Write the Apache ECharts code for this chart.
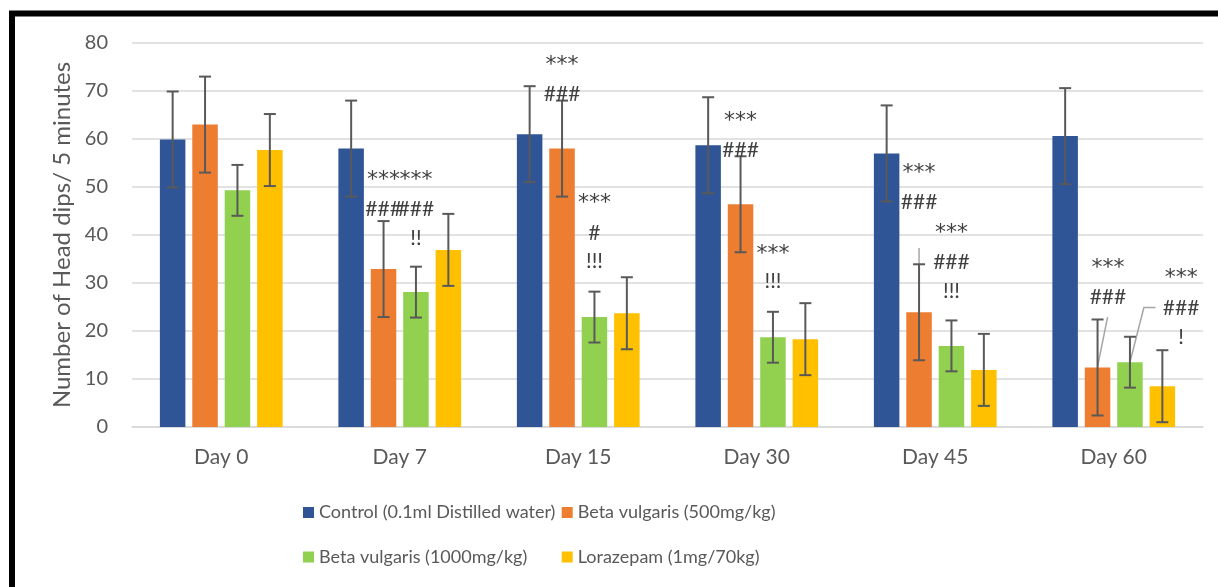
<!DOCTYPE html>
<html><head><meta charset="utf-8">
<script src="https://cdn.jsdelivr.net/npm/echarts@6/dist/echarts.min.js"></script>
<style>html,body{margin:0;padding:0;background:#fff}#c{width:1218px;height:587px}</style>
</head><body><div id="c"></div>
<script>
// ---- data ----
const categories = ['Day 0', 'Day 7', 'Day 15', 'Day 30', 'Day 45', 'Day 60'];
const seriesNames = ['Control (0.1ml Distilled water)', 'Beta vulgaris (500mg/kg)', 'Beta vulgaris (1000mg/kg)', 'Lorazepam (1mg/70kg)'];
const controlMean = [59.9, 58.0, 61.0, 58.7, 57.0, 60.6];
const controlErr  = [10, 10, 10, 10, 10, 10];
const bv500Mean   = [63.0, 32.9, 58.0, 46.4, 23.9, 12.4];
const bv500Err    = [10, 10, 10, 10, 10, 10];
const bv1000Mean  = [49.3, 28.1, 22.9, 18.7, 16.9, 13.5];
const bv1000Err   = [5.3, 5.3, 5.3, 5.3, 5.3, 5.3];
const loraMean    = [57.7, 36.9, 23.7, 18.3, 11.9, 8.5];
const loraErr     = [7.5, 7.5, 7.5, 7.5, 7.5, 7.5];
const yMin = 0, yMax = 80, yStep = 10;
// significance marks: [category index, bar slot (0-3, fractional allowed), y value, text]
const annotations = [
  [1, 1, 52.5, '***'], [1, 1, 45.4, '###'],
  [1, 2, 52.5, '***'], [1, 2, 45.4, '###'], [1, 2, 39.4, '!!'],
  [2, 1, 76.5, '***'], [2, 1, 69.3, '###'],
  [2, 2, 47.6, '***'], [2, 2, 40.3, '#'], [2, 2, 34.6, '!!!'],
  [3, 1, 64.8, '***'], [3, 1, 57.6, '###'],
  [3, 2, 37.1, '***'], [3, 2, 30.3, '!!!'],
  [4, 1, 54.0, '***'], [4, 1, 46.9, '###'],
  [4, 2, 41.5, '***'], [4, 2, 34.3, '###'], [4, 2, 28.3, '!!!'],
  [5, 1.32, 34.1, '***'], [5, 1.32, 27.1, '###'],
  [5, 3.58, 32.0, '***'], [5, 3.58, 24.7, '###'], [5, 3.58, 18.7, '!']
];
// label leader lines: [category index, [[slot, y], ...]]
const leaderLines = [
  [4, [[1, 33.9], [1, 37.3]]],
  [5, [[1.31, 22.9], [1.0, 12.6]]],
  [5, [[2.0, 13.5], [2.43, 24.9], [2.79, 24.9]]]
];
// ---- styling ----
const colors = ['#2F5597', '#ED7D31', '#92D050', '#FFC000'];
const FONT = 'Lato, "Open Sans", sans-serif';
const STAR_FONT = '"DejaVu Sans", sans-serif';
const TXT = '#595959';
const BAR_W = 25.5, BAR_GAP = 6.9;
const STRIDE = BAR_W + BAR_GAP;
const means = [controlMean, bv500Mean, bv1000Mean, loraMean];
const errs = [controlErr, bv500Err, bv1000Err, loraErr];

const chart = echarts.init(document.getElementById('c'), null, {renderer: 'canvas'});

const barSeries = seriesNames.map((n, i) => ({
  name: n, type: 'bar', data: means[i], barWidth: BAR_W,
  barGap: (BAR_GAP / BAR_W * 100).toFixed(1) + '%',
  itemStyle: {color: colors[i]}, z: 2
}));

const errSeries = seriesNames.map((n, i) => ({
  type: 'custom', z: 5, silent: true,
  data: categories.map((c, k) => [k, means[i][k], errs[i][k]]),
  renderItem: function (params, api) {
    const k = api.value(0), m = api.value(1), e = api.value(2);
    const top = api.coord([k, m + e]);
    const bot = api.coord([k, m - e]);
    const x = top[0] + (i - 1.5) * STRIDE;
    const st = {stroke: '#595959', lineWidth: 2};
    return {type: 'group', children: [
      {type: 'line', shape: {x1: x, y1: top[1], x2: x, y2: bot[1]}, style: st},
      {type: 'line', shape: {x1: x - 6, y1: top[1], x2: x + 6, y2: top[1]}, style: st},
      {type: 'line', shape: {x1: x - 6, y1: bot[1], x2: x + 6, y2: bot[1]}, style: st}
    ]};
  }
}));

const leaderSeries = {
  type: 'custom', z: 4, silent: true,
  data: leaderLines.map(l => [l[0], l[1][0][1]]),
  renderItem: function (params, api) {
    const l = leaderLines[params.dataIndex];
    const pts = l[1].map(p => {
      const c = api.coord([l[0], p[1]]);
      return [c[0] + (p[0] - 1.5) * STRIDE, c[1]];
    });
    return {type: 'polyline', shape: {points: pts}, style: {stroke: '#a6a6a6', lineWidth: 1.5, fill: null}};
  }
};

const annSeries = {
  type: 'custom', z: 6, silent: true,
  data: annotations.map(a => [a[0], a[2]]),
  renderItem: function (params, api) {
    const a = annotations[params.dataIndex];
    const c = api.coord([a[0], a[2]]);
    const isStar = a[3].charAt(0) === '*';
    return {type: 'text', x: c[0] + (a[1] - 1.5) * STRIDE, y: c[1] + (isStar ? 5 : 0),
      style: {text: a[3], fill: '#404040', fontSize: isStar ? 22 : 21,
        fontFamily: isStar ? STAR_FONT : FONT, align: 'center', verticalAlign: 'middle'}};
  }
};

const legendPos = [[298, 498.5], [556.7, 498.5], [298, 543], [556.7, 543]];
const legends = seriesNames.map((n, i) => ({
  data: [n], left: legendPos[i][0], top: legendPos[i][1], icon: 'rect',
  itemWidth: 11, itemHeight: 11, itemGap: 0, selectedMode: false,
  textStyle: {color: TXT, fontSize: 18, fontFamily: FONT}
}));

chart.setOption({
  animation: false,
  color: colors,
  textStyle: {fontFamily: FONT},
  grid: {left: 132, right: 15, top: 43, bottom: 160, containLabel: false},
  legend: legends,
  graphic: [{type: 'rect', shape: {x: 12, y: 13.5, width: 1300, height: 700},
    style: {fill: null, stroke: '#000', lineWidth: 6}, z: 100}],
  xAxis: {
    type: 'category', data: categories,
    axisLine: {lineStyle: {color: '#d9d9d9', width: 1.5}},
    axisTick: {show: false},
    axisLabel: {color: TXT, fontSize: 21, fontFamily: FONT, margin: 20}
  },
  yAxis: {
    type: 'value', min: yMin, max: yMax, interval: yStep,
    name: 'Number of Head dips/ 5 minutes', nameLocation: 'middle', nameGap: 57,
    nameTextStyle: {color: TXT, fontSize: 24, fontFamily: FONT},
    axisLine: {show: false}, axisTick: {show: false},
    axisLabel: {color: TXT, fontSize: 20, fontFamily: FONT, margin: 24},
    splitLine: {lineStyle: {color: '#d9d9d9', width: 1.5}}
  },
  series: [...barSeries, ...errSeries, leaderSeries, annSeries]
});
</script></body></html>
